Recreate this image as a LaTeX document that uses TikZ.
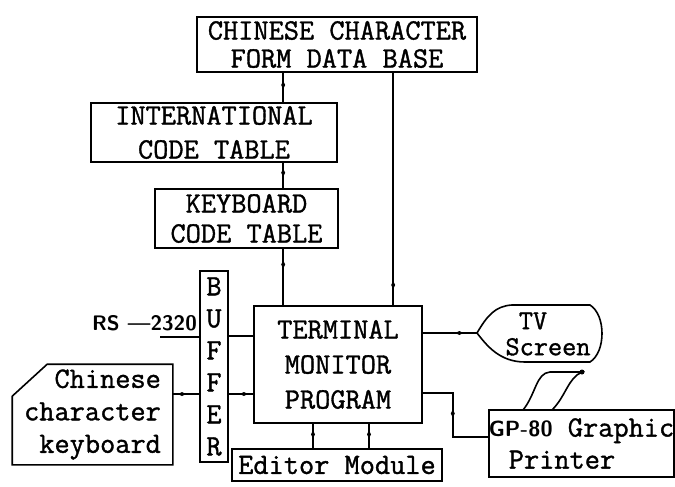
\documentclass[tikz,border=0pt]{standalone}
\usepackage{fontspec}
\setmonofont{Latin Modern Mono}[FakeBold=1.2]
\usetikzlibrary{arrows.meta,decorations.markings,calc}

\newcommand\boxfont{\fontsize{29.5}{32}\selectfont\ttfamily}
\newcommand\gpfont{\fontsize{22}{22}\selectfont\sffamily\bfseries}

\tikzset{
  blk/.style={draw,line width=1.6pt,inner sep=0pt,font=\boxfont,align=center},
  conn/.style={line width=1.7pt},
  midmark/.style={decoration={markings,
      mark=at position #1 with {\arrow{Diamond[length=8pt,width=4pt]}}},
    postaction={decorate}},
}

\begin{document}
\begin{tikzpicture}[x=1pt,y=-1pt]
    \useasboundingbox (0,0) rectangle (675,487);
    %boxes
    \node[blk,minimum width=280,minimum height=55,font=\fontsize{29.5}{28}\selectfont\ttfamily]
        (db) at (337,44.5) {CHINESE CHARACTER\\FORM DATA BASE};
    \node[blk,minimum width=246,minimum height=59,font=\fontsize{29.5}{34}\selectfont\ttfamily]
        (intl) at (214,132.5) {INTERNATIONAL\\CODE TABLE};
    \node[blk,minimum width=183,minimum height=59,font=\fontsize{29.5}{30}\selectfont\ttfamily]
        (kbd) at (246.5,218.5) {KEYBOARD\\CODE TABLE};
    \node[blk,minimum width=28,minimum height=191]
        (buf) at (214,366.5) {B\\U\\F\\F\\E\\R};
    \node[blk,minimum width=168,minimum height=117,font=\fontsize{29.5}{35}\selectfont\ttfamily]
        (tmp) at (338,364.5) {TERMINAL\\MONITOR\\PROGRAM};
    \node[blk,minimum width=210,minimum height=32]
        (ed) at (337,465) {Editor Module};
    \node[blk,draw=none,minimum width=159,minimum height=99,align=right,
        font=\fontsize{29.5}{32.5}\selectfont\ttfamily]
        (keyb) at (92.5,414.5) {Chinese\\character\\keyboard};
    \draw[line width=1.6pt] (keyb.south west) -- ($(keyb.north west)+(0,32)$)
        -- ($(keyb.north west)+(35,0)$) -- (keyb.north east)
        -- (keyb.south east) -- cycle;
    \node[blk,minimum width=185,minimum height=67,align=left]
        (prn) at (581.5,443.5) {{\gpfont GP-80} Graphic\\\hspace*{20pt}Printer};
    %tv screen
    \node[font=\fontsize{27.5}{26}\selectfont\ttfamily,inner sep=0pt,align=center]
        (tv) at (548,334) {TV\hspace*{30pt}\\Screen};
    \coordinate (tvtip) at (477,333);
    \draw[line width=1.6pt] (tvtip) .. controls (487,316) and (495,306) .. (512,305)
        -- (590,305) .. controls (606,315) and (606,352) .. (590,362)
        -- (525,362) .. controls (500,362) and (487,346) .. (tvtip);
    %paper
    \draw[line width=1.6pt] (523,410) .. controls (536,394) and (536,373) .. (550,372)
        -- (582,372) .. controls (568,378) and (566,396) .. (552,410);
    \fill (582,372) circle (2.5);
    %rs-232
    \node[font=\fontsize{21}{22}\selectfont\sffamily\bfseries,anchor=south east,inner sep=1pt]
        (rs) at (198,332) {RS ---2320};
    \coordinate (rsend) at (160,337);
    \draw[conn] (rsend) -- (rsend -| buf.west);
    %connectors
    \coordinate (vl) at ($(db.south west)+(87,0)$);
    \coordinate (vr) at ($(db.south west)+(197,0)$);
    \draw[conn,midmark=0.55] (vl |- db.south) -- (vl |- intl.north);
    \draw[conn,midmark=0.55] (vl |- intl.south) -- (vl |- kbd.north);
    \draw[conn,midmark=0.35] (vl |- kbd.south) -- (vl |- tmp.north);
    \draw[conn,midmark=0.93] (vr |- db.south) -- (vr |- tmp.north);
    \draw[conn] ($(tmp.west)+(0,-28.5)$) -- ($(buf.east)+(0,-30.5)$);
    \draw[conn,midmark=0.55] ($(tmp.west)+(0,29.5)$) -- ($(buf.east)+(0,27.5)$);
    \draw[conn,midmark=0.5] ($(keyb.east)+(0,-20.5)$) -- ($(buf.west)+(0,27.5)$);
    \draw[conn,midmark=0.75] (tmp.east |- tvtip) -- (tvtip);
    \coordinate (e1) at ($(tmp.south)+(-25,0)$);
    \coordinate (e2) at ($(tmp.south)+(31,0)$);
    \draw[conn,midmark=0.6] (e1) -- (e1 |- ed.north);
    \draw[conn,midmark=0.6] (e2) -- (e2 |- ed.north);
    \draw[conn,midmark=0.5] ($(tmp.south east)+(0,-31)$) -- ++(30,0)
        |- ($(prn.west)+(0,-6.5)$);
\end{tikzpicture}
\end{document}
